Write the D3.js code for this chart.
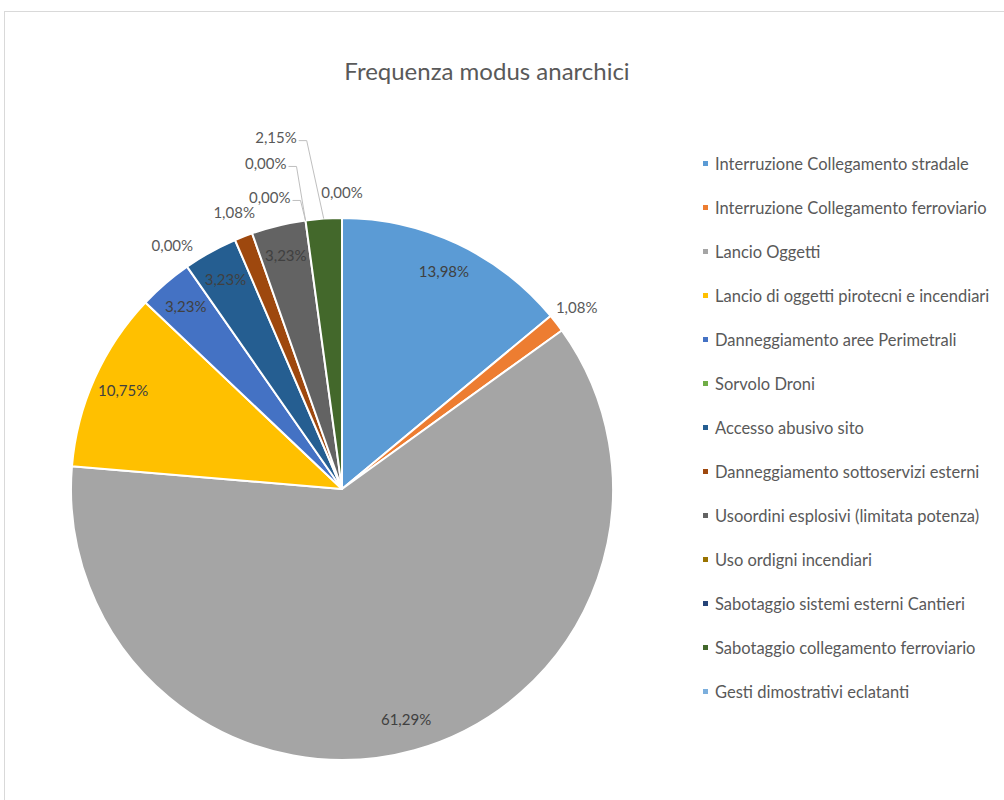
<!DOCTYPE html>
<html>
<head>
<meta charset="utf-8">
<script src="https://cdn.jsdelivr.net/npm/d3@7"></script>
<style>
  html, body { margin: 0; padding: 0; background: #ffffff; }
  svg { display: block; }
  text { font-family: Lato, "Open Sans", sans-serif; }
</style>
</head>
<body>
<svg id="chart" width="1004" height="800"></svg>
<script>
// Chart data
const title = "Frequenza modus anarchici";
const categories = [
  "Interruzione Collegamento stradale",
  "Interruzione Collegamento ferroviario",
  "Lancio Oggetti",
  "Lancio di oggetti pirotecni e incendiari",
  "Danneggiamento aree Perimetrali",
  "Sorvolo Droni",
  "Accesso abusivo sito",
  "Danneggiamento sottoservizi esterni",
  "Usoordini esplosivi (limitata potenza)",
  "Uso ordigni incendiari",
  "Sabotaggio sistemi esterni Cantieri",
  "Sabotaggio collegamento ferroviario",
  "Gesti dimostrativi eclatanti"
];
const values = [13.98, 1.08, 61.29, 10.75, 3.23, 0.00, 3.23, 1.08, 3.23, 0.00, 0.00, 2.15, 0.00];
const colors = [
  "#5b9bd5", "#ed7d31", "#a5a5a5", "#ffc000", "#4472c4", "#70ad47",
  "#255e91", "#9e480e", "#636363", "#997300", "#264478", "#43682b", "#7cafdd"
];

// Label placement per slice: inside, outside, or outside with a leader line
const labelMode = ["in", "out", "in", "in", "in", "out", "in", "out", "in", "lead", "lead", "lead", "out"];
// Offsets of the leader-line labels from the slice edge (text end point)
const leaderOffset = { 9: [-15, -23], 10: [-19, -57], 11: [-27, -81] };

const svg = d3.select("#chart");
const W = 1004, H = 800;

// Chart area frame
svg.append("rect")
  .attr("x", 4.5).attr("y", 11.5)
  .attr("width", W + 10).attr("height", H + 10)
  .attr("fill", "#ffffff")
  .attr("stroke", "#d9d9d9").attr("stroke-width", 1);

// Title
svg.append("text")
  .attr("x", 487).attr("y", 80)
  .attr("text-anchor", "middle")
  .attr("font-size", 24)
  .attr("fill", "#595959")
  .text(title);

// Pie
const cx = 342, cy = 489, R = 271;
const fmt = v => d3.format(".2f")(v).replace(".", ",") + "%";

const pie = d3.pie().sort(null).value(d => d.value).startAngle(0).endAngle(2 * Math.PI);
const data = categories.map((c, i) => ({ name: c, value: values[i], color: colors[i], i }));
const arcs = pie(data);

const arc = d3.arc().innerRadius(0).outerRadius(R);
const inArc = d3.arc().innerRadius(R * 0.885).outerRadius(R * 0.885);
const outArc = d3.arc().innerRadius(R * 1.095).outerRadius(R * 1.095);
const edgeArc = d3.arc().innerRadius(R).outerRadius(R);

const g = svg.append("g").attr("transform", `translate(${cx},${cy})`);

g.selectAll("path.slice")
  .data(arcs.filter(a => a.data.value > 0))
  .join("path")
  .attr("class", "slice")
  .attr("d", arc)
  .attr("fill", d => d.data.color)
  .attr("stroke", "#ffffff")
  .attr("stroke-width", 2)
  .attr("stroke-linejoin", "round");

// Data labels
arcs.forEach(a => {
  const mode = labelMode[a.data.i];
  if (mode === "in") {
    const [x, y] = inArc.centroid(a);
    g.append("text")
      .attr("x", x).attr("y", y)
      .attr("text-anchor", "middle").attr("dy", "0.35em")
      .attr("font-size", 15).attr("fill", "#404040")
      .text(fmt(a.data.value));
  } else if (mode === "out") {
    const [x, y] = outArc.centroid(a);
    g.append("text")
      .attr("x", x).attr("y", y)
      .attr("text-anchor", "middle").attr("dy", "0.35em")
      .attr("font-size", 15).attr("fill", "#595959")
      .text(fmt(a.data.value));
  } else {
    const [ex, ey] = edgeArc.centroid(a);
    const [ox, oy] = leaderOffset[a.data.i];
    const tx = ex + ox, ty = ey + oy;
    g.append("polyline")
      .attr("points", [[tx + 2, ty + 3], [tx + 10, ty + 3], [ex, ey]].map(p => p.join(",")).join(" "))
      .attr("fill", "none").attr("stroke", "#bfbfbf").attr("stroke-width", 1);
    g.append("text")
      .attr("x", tx).attr("y", ty)
      .attr("text-anchor", "end").attr("dy", "0.35em")
      .attr("font-size", 15).attr("fill", "#595959")
      .text(fmt(a.data.value));
  }
});

// Legend
const legend = svg.append("g").attr("transform", "translate(703,164)");
const row = d3.scaleLinear().domain([0, 1]).range([0, 44]);
const items = legend.selectAll("g.item")
  .data(data)
  .join("g")
  .attr("class", "item")
  .attr("transform", (d, i) => `translate(0,${row(i)})`);
items.append("rect")
  .attr("x", 0).attr("y", -3).attr("width", 5).attr("height", 5)
  .attr("fill", d => d.color);
items.append("text")
  .attr("x", 12).attr("y", 0).attr("dy", "0.35em")
  .attr("font-size", 16.5).attr("fill", "#595959")
  .text(d => d.name);
</script>
</body>
</html>
